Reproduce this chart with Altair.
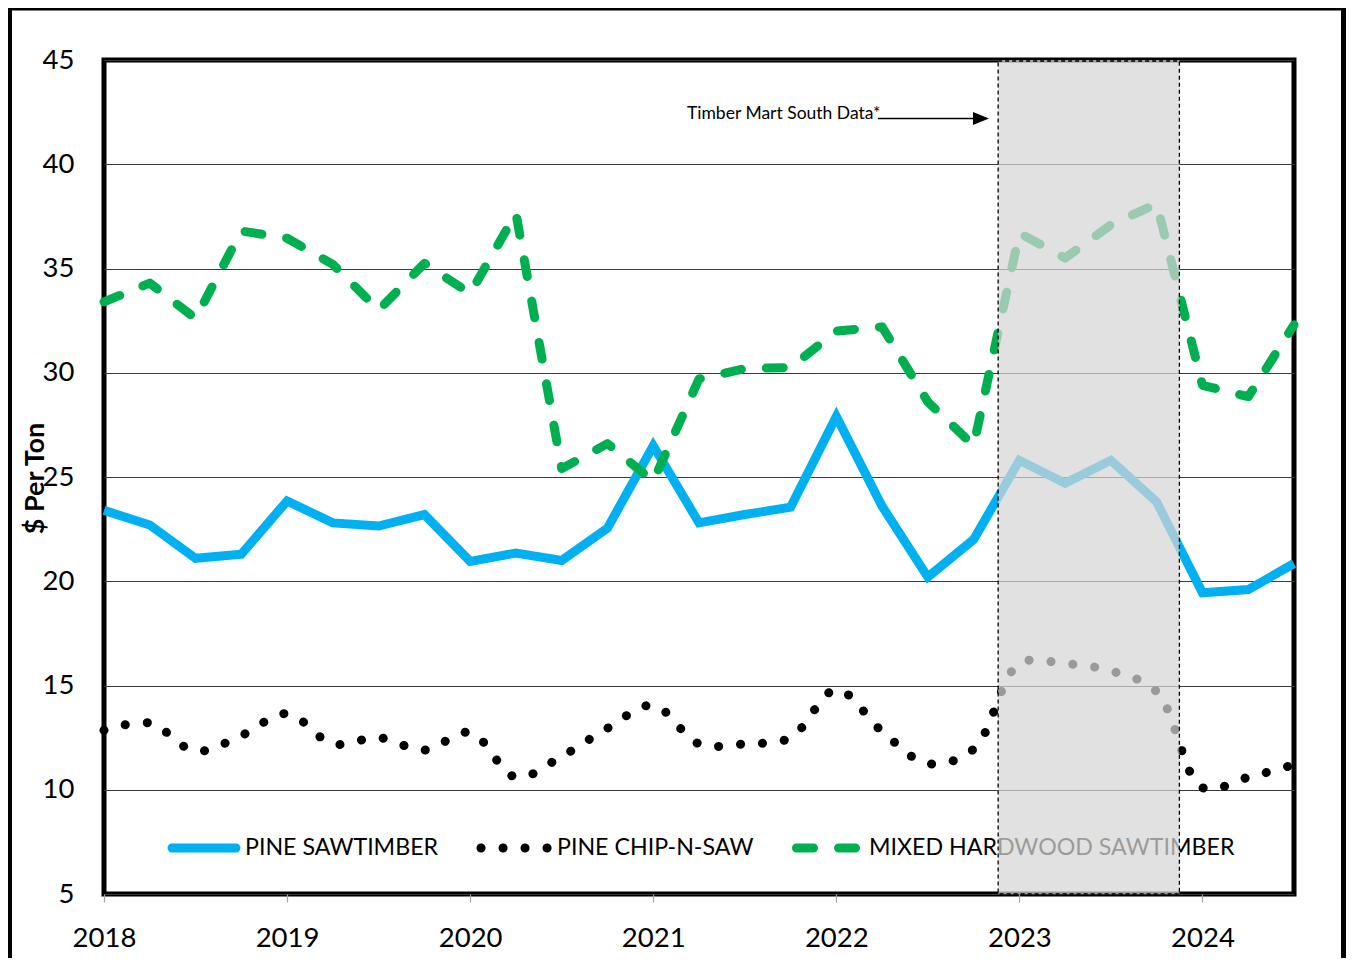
import altair as alt
import pandas as pd

# ---------------- data ----------------
quarters = [2018.0, 2018.25, 2018.5, 2018.75,
            2019.0, 2019.25, 2019.5, 2019.75,
            2020.0, 2020.25, 2020.5, 2020.75,
            2021.0, 2021.25, 2021.5, 2021.75,
            2022.0, 2022.25, 2022.5, 2022.75,
            2023.0, 2023.25, 2023.5, 2023.75,
            2024.0, 2024.25, 2024.5]

pine_sawtimber = [23.4, 22.7, 21.1, 21.3, 23.85, 22.8, 22.65, 23.2,
                  20.95, 21.35, 21.0, 22.55, 26.5, 22.8, 23.2, 23.55,
                  27.9, 23.6, 20.2, 22.0, 25.8, 24.7, 25.8, 23.8,
                  19.45, 19.6, 20.85]

pine_chip_n_saw = [12.85, 13.2, 11.85, 12.6, 13.65, 12.2, 12.5, 11.9,
                   12.75, 10.6, 11.6, 12.95, 14.05, 12.2, 12.2, 12.5,
                   14.8, 12.8, 11.25, 11.95, 16.05, 16.05, 15.7, 14.7,
                   10.1, 10.6, 11.2]

mixed_hardwood = [33.4, 34.3, 32.6, 36.8, 36.45, 35.2, 33.0, 35.25,
                  33.8, 37.65, 25.4, 26.6, 24.8, 29.7, 30.2, 30.25,
                  32.0, 32.2, 28.6, 26.5, 36.7, 35.5, 37.1, 38.1,
                  29.4, 28.85, 32.3]

series_names = ["PINE SAWTIMBER", "PINE CHIP-N-SAW", "MIXED HARDWOOD SAWTIMBER"]
year_ticks = [2018, 2019, 2020, 2021, 2022, 2023, 2024]
y_ticks = [5, 10, 15, 20, 25, 30, 35, 40, 45]
shade_range = [2022.884, 2023.874]
annotation_text = "Timber Mart South Data*"
y_title = "$ Per Ton"

rows = []
for name, vals in zip(series_names, [pine_sawtimber, pine_chip_n_saw, mixed_hardwood]):
    for q, v in zip(quarters, vals):
        rows.append({"x": q, "value": v, "series": name})
df = pd.DataFrame(rows)
one = pd.DataFrame({"k": [0]})  # single row for decoration marks

FONT = "Lato"
W, H = 1190, 834
x_scale = alt.Scale(domain=[2018, 2024.5], nice=False, zero=False)

x_axis = alt.Axis(values=year_ticks, format="d", title=None, grid=False,
                  domain=False, ticks=True, tickColor="#a6a6a6", tickSize=8,
                  tickWidth=1.2, labelFont=FONT, labelFontSize=27.5,
                  labelColor="black", labelPadding=22, labelFlush=False)
y_axis = alt.Axis(values=y_ticks, title=y_title, grid=True, gridColor="#3a3a3a",
                  gridWidth=1, ticks=False, domain=False, labelFont=FONT,
                  labelFontSize=27.5, labelColor="black", labelPadding=30,
                  labelFlush=False,
                  titleFont=FONT, titleFontSize=27, titleFontWeight="bold",
                  titleColor="black", titleAngle=270, titleX=-69, titleY=418,
                  titleAlign="center", titleBaseline="middle")

x_enc = alt.X("x:Q", scale=x_scale, axis=x_axis)
y_enc = alt.Y("value:Q", scale=alt.Scale(domain=[5, 45], nice=False, zero=False), axis=y_axis)

base = alt.Chart(df)
deco = alt.Chart(one)

frame = deco.mark_rect(fillOpacity=0, stroke="black", strokeWidth=5).encode(
    x=alt.value(-94.5), x2=alt.value(1239.5), y=alt.value(-52), y2=alt.value(930))

line_saw = base.transform_filter(alt.datum.series == series_names[0]).mark_line(
    color="#00b0f0", strokeWidth=9, strokeJoin="miter").encode(x=x_enc, y=y_enc)

line_chip = base.transform_filter(alt.datum.series == series_names[1]).mark_line(
    color="black", strokeWidth=9, strokeCap="round", strokeDash=[0.1, 21.9],
    interpolate="catmull-rom").encode(x=x_enc, y=y_enc)

line_mixed = base.transform_filter(alt.datum.series == series_names[2]).mark_line(
    color="#00b050", strokeWidth=9, strokeCap="round", strokeDash=[17, 25],
    strokeJoin="round").encode(x=x_enc, y=y_enc)

# legend (inside plot, drawn beneath the shaded overlay)
leg_y = 788
leg1 = deco.mark_rule(color="#00b0f0", strokeWidth=9, strokeCap="round").encode(
    x=alt.value(68), x2=alt.value(132), y=alt.value(leg_y))
leg2 = deco.mark_rule(color="black", strokeWidth=9, strokeCap="round",
                      strokeDash=[0.1, 21.9]).encode(
    x=alt.value(377), x2=alt.value(443.5), y=alt.value(leg_y))
leg3 = deco.mark_rule(color="#00b050", strokeWidth=9, strokeCap="round",
                      strokeDash=[17, 25]).encode(
    x=alt.value(692.5), x2=alt.value(751.5), y=alt.value(leg_y))

def leg_text(name, xpos):
    return deco.mark_text(font=FONT, fontSize=23.2, fontWeight="normal",
                          color="black", align="left",
                          baseline="middle").encode(
        x=alt.value(xpos), y=alt.value(leg_y), text=alt.value(name))

lt1 = leg_text(series_names[0], 141)
lt2 = leg_text(series_names[1], 453)
lt3 = leg_text(series_names[2], 765)

# annotation
ann_text = deco.mark_text(font=FONT, fontSize=17.5, fontWeight="normal",
                          color="black", align="left",
                          baseline="middle").encode(
    x=alt.value(583), y=alt.value(54), text=alt.value(annotation_text))
ann_line = deco.mark_rule(color="black", strokeWidth=1.3).encode(
    x=alt.value(774), x2=alt.value(874), y=alt.value(58.5))
ann_head = deco.mark_point(shape="M -1 -0.8 L 1 0 L -1 0.8 Z", size=256,
                           filled=True, color="black", opacity=1).encode(
    x=alt.value(877), y=alt.value(58.5))

# shaded overlay (semi-transparent, on top of the lines)
shade = deco.mark_rect(color="#d6d6d6", opacity=0.72).encode(
    x=alt.datum(shade_range[0], scale=x_scale),
    x2=alt.datum(shade_range[1]),
    y=alt.value(0), y2=alt.value(H))
shade_border = deco.mark_rect(fillOpacity=0, stroke="black",
                              strokeWidth=1.3, strokeDash=[4, 3]).encode(
    x=alt.datum(shade_range[0], scale=x_scale),
    x2=alt.datum(shade_range[1]),
    y=alt.value(1), y2=alt.value(H))

chart = alt.layer(frame, line_saw, line_chip, line_mixed, leg1, leg2, leg3, lt1, lt2, lt3,
                  ann_text, ann_line, ann_head, shade, shade_border).properties(
    width=W, height=H,
    background="white",
    autosize=alt.AutoSizeParams(type="none"),
    padding={"left": 96, "top": 52, "right": 52, "bottom": 64},
).configure_view(stroke="black", strokeWidth=5)

chart.save("out.html", embed_options={"renderer": "svg", "actions": False})
